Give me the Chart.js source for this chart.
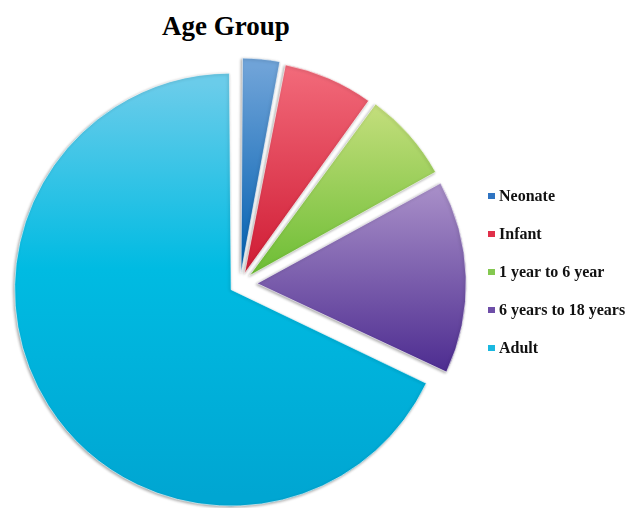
<!DOCTYPE html>
<html>
<head>
<meta charset="utf-8">
<title>Age Group</title>
<script src="https://cdn.jsdelivr.net/npm/chart.js@4.4.1/dist/chart.umd.min.js"></script>
<style>
    body {
        margin: 0;
        background: #ffffff;
        width: 636px;
        height: 508px;
        position: relative;
        overflow: hidden;
        font-family: "Liberation Serif", "DejaVu Serif", serif;
    }
    #chart { position: absolute; left: 0; top: 0; }
    #title {
        position: absolute;
        left: 126px;
        top: 13px;
        width: 200px;
        text-align: center;
        font-weight: bold;
        font-size: 27px;
        line-height: 27px;
        color: #000;
    }
    #legend { position: absolute; left: 488px; top: 0; }
    .item {
        position: absolute;
        left: 0;
        white-space: nowrap;
        font-weight: bold;
        font-size: 16px;
        line-height: 16px;
        color: #111;
    }
    .box { position: absolute; left: 0; top: 5px; width: 7px; height: 6px; }
    .item span.text { position: absolute; left: 11px; top: 0; }
</style>
</head>
<body>
<div id="title">Age Group</div>
<canvas id="chart" width="636" height="508"></canvas>
<div id="legend"></div>

<script>
const labels = ["Neonate", "Infant", "1 year to 6 year", "6 years to 18 years", "Adult"];
const shares = [3, 7, 7, 15, 68];

// colours for each slice, light at the top and darker further down
const legendColors = ["#2f74c2", "#e0304a", "#84c850", "#6e4ea8", "#1ab8e0"];
const fillStops = [
    [[0, "#6fa3d8"], [1, "#0562b2"]],
    [[0, "#f26a7a"], [1, "#d11f37"]],
    [[0, "#c6df7e"], [1, "#6cbd34"]],
    [[0, "#ab92ca"], [1, "#4b2a8f"]],
    [[0, "#6accea"], [0.45, "#00bbe2"], [1, "#00a6d2"]]
];
// vertical span of each gradient, in pie radii from the centre
const fadeFrom = [-1.0, -1.0, -0.85, -0.5, -1.0];
const fadeTo = [-0.05, -0.05, 0.0, 0.45, 1.0];

// how far each slice is pulled out
const pullOut = [44, 46, 50, 68, 42];
const pieRadius = 206;

function sliceFill(context) {
    const i = context.dataIndex;
    const chart = context.chart;
    const area = chart.chartArea;
    if (!area) {
        return legendColors[i];
    }
    const cy = (area.top + area.bottom) / 2;
    const g = chart.ctx.createLinearGradient(0, cy + fadeFrom[i] * pieRadius, 0, cy + fadeTo[i] * pieRadius);
    fillStops[i].forEach(s => g.addColorStop(s[0], s[1]));
    return g;
}

// soft grey edge under the slices
const edgeShadow = {
    id: "edgeShadow",
    beforeDatasetsDraw(chart) {
        const ctx = chart.ctx;
        ctx.save();
        ctx.shadowColor = "rgba(0, 0, 0, 0.35)";
        ctx.shadowBlur = 3;
        ctx.shadowOffsetX = -1;
        ctx.shadowOffsetY = 1;
    },
    afterDatasetsDraw(chart) {
        chart.ctx.restore();
    }
};

function legend() {
    let div = document.getElementById("legend");
    let html = "";
    for (let i = 0; i < labels.length; i++) {
        const top = 187.5 + i * 38.2;
        html += `<div class="item" style="top:${top}px">
                    <div class="box" style="background:${legendColors[i]}"></div>
                    <span class="text">${labels[i]}</span>
                 </div>`;
    }
    div.innerHTML = html;
}

function chart() {
    let canvas = document.getElementById("chart");

    const myChart = new Chart(canvas, {
        type: "pie",
        data: {
            labels: labels,
            datasets: [{
                data: shares,
                backgroundColor: sliceFill,
                borderColor: "rgba(255, 255, 255, 0.6)",
                borderWidth: 1,
                offset: pullOut,
                radius: pieRadius,
                clip: false
            }]
        },
        options: {
            responsive: false,
            devicePixelRatio: 1,
            animation: false,
            layout: {
                padding: { left: 0, right: 156, top: 60, bottom: 0 }
            },
            plugins: {
                legend: { display: false },
                title: { display: false },
                tooltip: { enabled: false }
            }
        },
        plugins: [edgeShadow]
    });
}

window.onload = function() {
    legend();
    chart();
}
</script>
</body>
</html>
